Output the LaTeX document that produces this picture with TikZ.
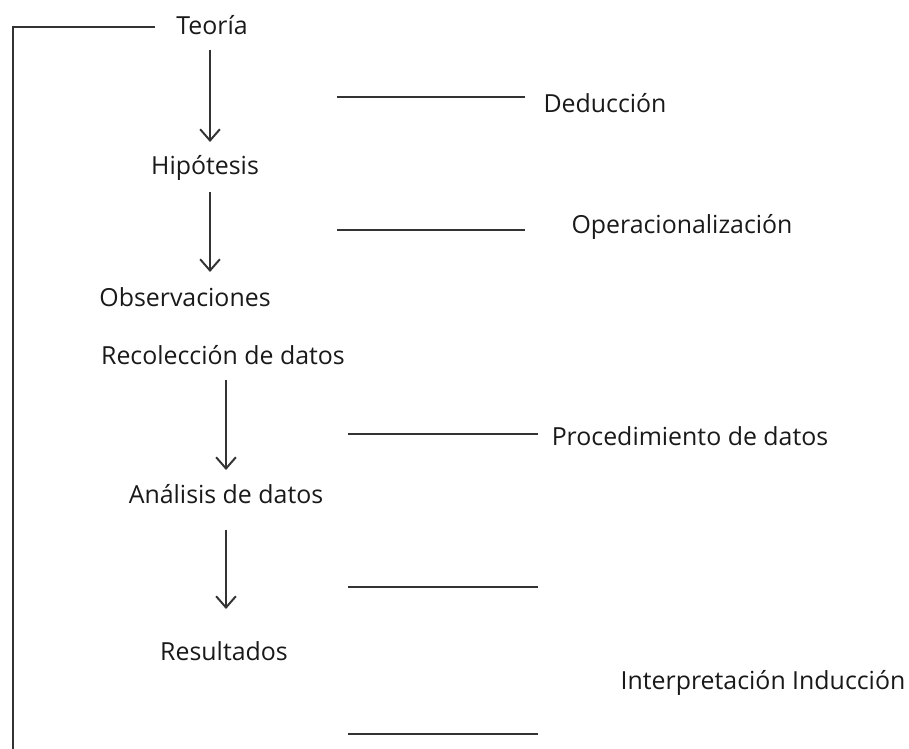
\documentclass[tikz,border=0pt]{standalone}
\usepackage{fontspec}
\setmainfont{Open Sans}
\usetikzlibrary{arrows.meta}

\begin{document}
\begin{tikzpicture}[x=0.025cm, y=-0.025cm,
    label/.style={inner sep=0pt, font=\fontsize{17.7}{21}\selectfont, text=black!90},
    flow/.style={line width=1.4pt, draw=black!80, -{Straight Barb[length=8pt, width=14pt, line width=1.4pt]}},
    rule/.style={line width=1.4pt, draw=black!80}]
      \useasboundingbox (0,0) rectangle (909,749);
      % main column
      \node[label] (teoria) at (212,25) {Teoría};
      \node[label] (hipotesis) at (205,168) {Hipótesis};
      \node[label] (observ) at (185,297) {Observaciones};
      \node[label] (recoleccion) at (223,355) {Recolección de datos};
      \node[label] (analisis) at (226,494) {Análisis de datos};
      \node[label] (resultados) at (224,651) {Resultados};
      \coordinate (a1s) at (210,50);  \coordinate (a1e) at (210,142);
      \coordinate (a2s) at (210,192); \coordinate (a2e) at (210,272);
      \coordinate (a3s) at (226,380); \coordinate (a3e) at (226,470);
      \coordinate (a4s) at (226,530); \coordinate (a4e) at (226,609);
      \draw[flow] (a1s) -- (a1e);
      \draw[flow] (a2s) -- (a2e);
      \draw[flow] (a3s) -- (a3e);
      \draw[flow] (a4s) -- (a4e);
      % feedback line
      \coordinate (topl) at (155,27);
      \coordinate (corner) at (13,27);
      \coordinate (botl) at (13,749);
      \draw[rule] (topl) -- (corner) -- (botl);
      % side labels
      \node[label] (deduccion) at (605,103) {Deducción};
      \node[label] (operac) at (682,227) {Operacionalización};
      \node[label] (proced) at (690,436) {Procedimiento de datos};
      \node[label] (interp) at (763,683) {Interpretación Inducción};
      \coordinate (r1a) at (337,97);  \coordinate (r1b) at (525,97);
      \coordinate (r2a) at (337,230); \coordinate (r2b) at (525,230);
      \coordinate (r3a) at (348,434); \coordinate (r3b) at (538,434);
      \coordinate (r4a) at (348,587); \coordinate (r4b) at (538,587);
      \coordinate (r5a) at (348,734); \coordinate (r5b) at (538,734);
      \draw[rule] (r1a) -- (r1b);
      \draw[rule] (r2a) -- (r2b);
      \draw[rule] (r3a) -- (r3b);
      \draw[rule] (r4a) -- (r4b);
      \draw[rule] (r5a) -- (r5b);
\end{tikzpicture}
\end{document}
